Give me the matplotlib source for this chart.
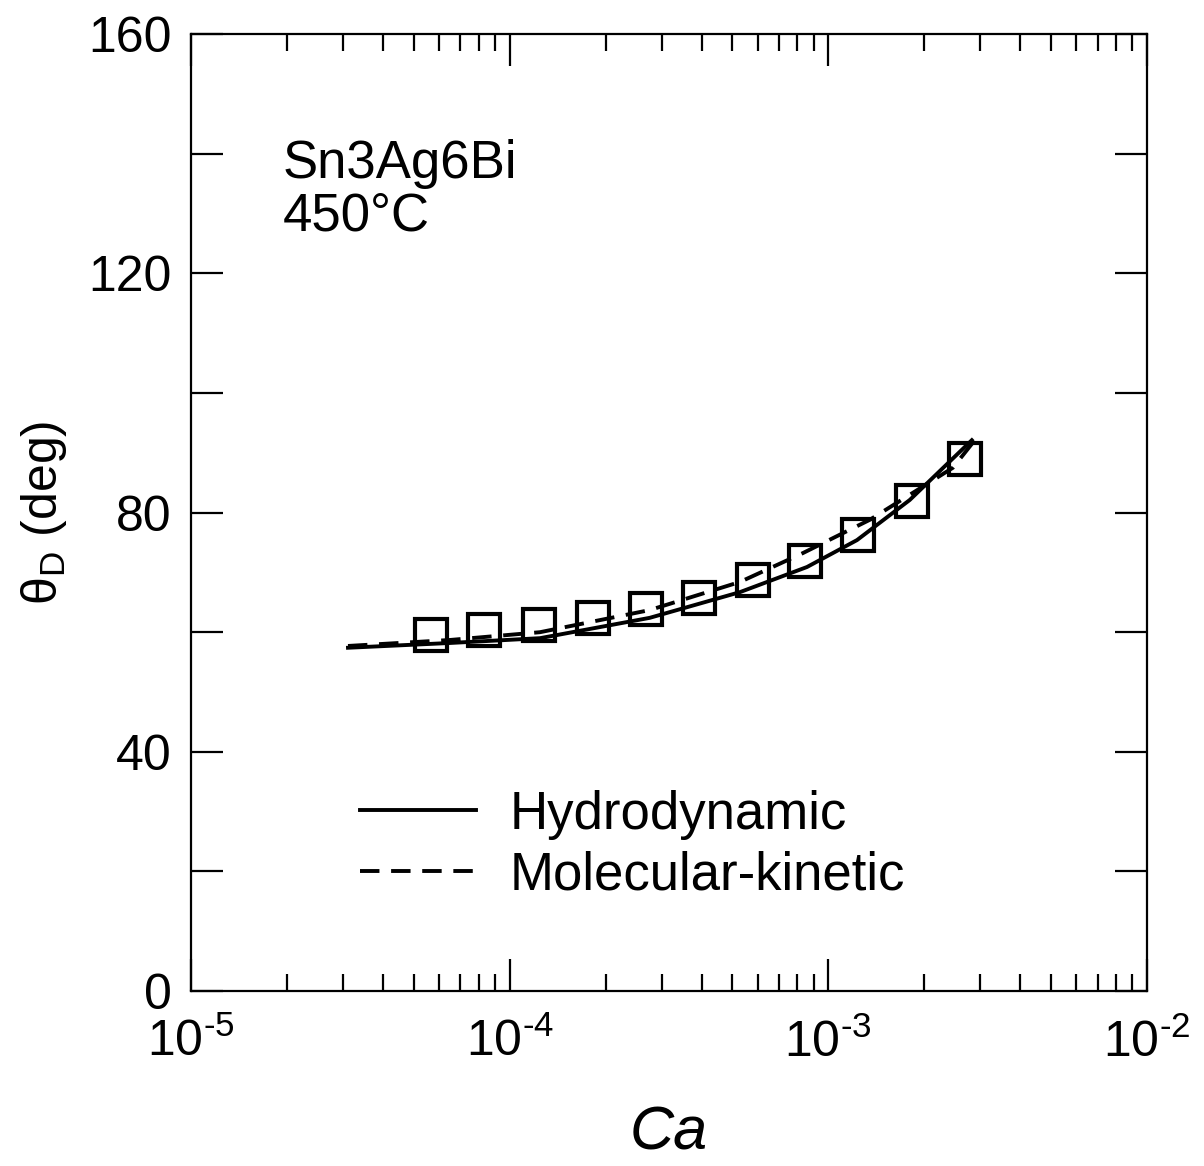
import numpy as np
import matplotlib.pyplot as plt
from matplotlib.ticker import FixedLocator, FixedFormatter, MultipleLocator

plt.rcParams['font.family'] = ['Liberation Sans', 'DejaVu Sans']
plt.rcParams['mathtext.fontset'] = 'custom'
plt.rcParams['mathtext.rm'] = 'Liberation Sans'

# measured points
ca_exp = [5.66e-5, 8.3e-5, 1.24e-4, 1.82e-4, 2.68e-4, 3.93e-4,
          5.8e-4, 8.45e-4, 1.24e-3, 1.83e-3, 2.68e-3]
theta_exp = [59.5, 60.4, 61.2, 62.4, 63.9, 65.7, 68.7, 71.9, 76.3, 81.9, 89.0]

# hydrodynamic fit
ca_hd = [3.11e-5, 6.5e-5, 1.245e-4, 2.75e-4, 5.28e-4, 8.57e-4, 1.23e-3, 1.80e-3, 2.82e-3]
theta_hd = [57.4, 58.2, 59.0, 62.4, 66.7, 70.9, 75.4, 82.1, 92.1]

# molecular-kinetic fit
ca_mk = [3.11e-5, 6.5e-5, 1.245e-4, 2.75e-4, 5.28e-4, 8.3e-4, 1.35e-3, 2.46e-3, 2.88e-3]
theta_mk = [57.7, 58.7, 60.0, 63.7, 68.4, 73.2, 78.8, 87.5, 92.1]

xticks = [1e-5, 1e-4, 1e-3, 1e-2]
xticklabels = [r'10$^{\text{-5}}$', r'10$^{\text{-4}}$',
               r'10$^{\text{-3}}$', r'10$^{\text{-2}}$']

fig = plt.figure(figsize=(12.04, 11.66), dpi=100)
ax = fig.add_axes([0.1586, 0.150, 0.7941, 0.8208])

ax.plot(ca_hd, theta_hd, '-', color='black', lw=2.8, label='Hydrodynamic')
ax.plot(ca_mk, theta_mk, '--', color='black', lw=2.8, dashes=(5, 3),
        label='Molecular-kinetic')
ax.plot(ca_exp, theta_exp, 's', ms=23, mfc='none', mec='black', mew=3.0)

ax.set_xscale('log')
ax.set_xlim(1e-5, 1e-2)
ax.set_ylim(0, 160)

ax.xaxis.set_major_locator(FixedLocator(xticks))
ax.xaxis.set_major_formatter(FixedFormatter(xticklabels))
ax.yaxis.set_major_locator(MultipleLocator(40))
ax.yaxis.set_minor_locator(MultipleLocator(20))

ax.tick_params(axis='both', which='both', direction='in', top=True, right=True,
               width=1.6, colors='black')
ax.tick_params(axis='x', which='major', length=23, labelsize=36, pad=20)
ax.tick_params(axis='x', which='minor', length=12)
ax.tick_params(axis='y', which='both', length=23, labelsize=36, pad=14)
for s in ax.spines.values():
    s.set_linewidth(1.6)

ax.set_xlabel('Ca', fontsize=44, style='italic', labelpad=28)
ax.set_ylabel(r'$\mathregular{\theta_D}$ (deg)', fontsize=36, labelpad=14)

ax.text(0.096, 0.8495, 'Sn3Ag6Bi', transform=ax.transAxes,
        fontsize=38, va='baseline', ha='left')
ax.text(0.096, 0.795, '450\u00b0C', transform=ax.transAxes,
        fontsize=38, va='baseline', ha='left')

ax.legend(loc='lower left', bbox_to_anchor=(0.177, 0.095), frameon=False,
          fontsize=38, handlelength=2.2, handletextpad=0.63, labelspacing=0.2,
          borderaxespad=0, borderpad=0)

fig.savefig('out.png', dpi=100)
